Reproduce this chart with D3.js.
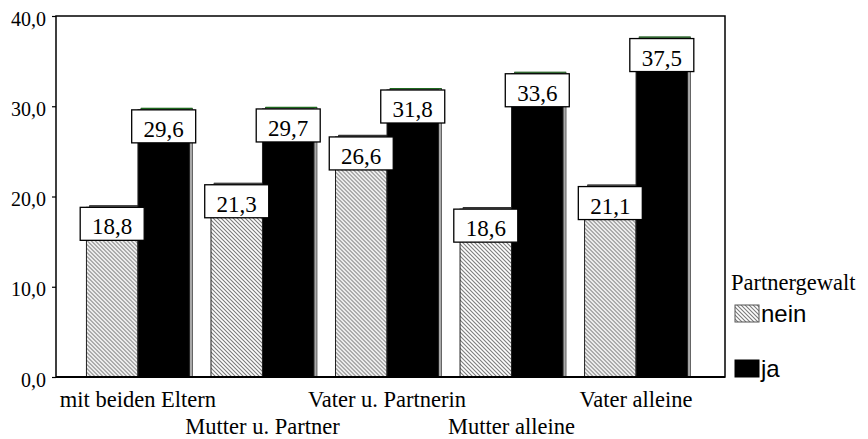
<!DOCTYPE html>
<html>
<head>
<meta charset="utf-8">
<script src="https://cdn.jsdelivr.net/npm/d3@7"></script>
<style>
  body { margin: 0; background: #fff; }
  svg { display: block; }
</style>
</head>
<body>
<div id="chart-container"></div>
<script>
// Data
const categories = ["mit beiden Eltern", "Mutter u. Partner", "Vater u. Partnerin", "Mutter alleine", "Vater alleine"];
const series = ["nein", "ja"];
const neinValues = [18.8, 21.3, 26.6, 18.6, 21.1];
const jaValues = [29.6, 29.7, 31.8, 33.6, 37.5];
const yTicks = [0, 10, 20, 30, 40];
const legendTitle = "Partnergewalt";

const width = 868, height = 439;
const frame = { left: 56, top: 16, right: 725, bottom: 377 };
const serif = "'Liberation Serif', 'Times New Roman', serif";

const svg = d3.select("#chart-container")
  .append("svg")
  .attr("width", width)
  .attr("height", height);

// hatch pattern for "nein"
const defs = svg.append("defs");
const pat = defs.append("pattern")
  .attr("id", "hatch")
  .attr("patternUnits", "userSpaceOnUse")
  .attr("width", 4)
  .attr("height", 4);
pat.append("rect").attr("width", 4).attr("height", 4).attr("fill", "#fff");
pat.append("path")
  .attr("d", "M-1,-1 L5,5 M-1,3 L1,5 M3,-1 L5,1")
  .attr("stroke", "#7a7a7a")
  .attr("stroke-width", 1.1);

// scales
const y = d3.scaleLinear()
  .domain([0, 40])
  .range([frame.bottom, frame.top]);

const x0 = d3.scaleBand()
  .domain(categories)
  .range([56, 718])
  .paddingInner(0.173)
  .paddingOuter(0.2445);

const x1 = d3.scaleBand()
  .domain(series)
  .range([0, x0.bandwidth()]);

const color = { nein: "url(#hatch)", ja: "#000" };

const rows = categories.map((c, i) => ({
  cat: c,
  values: [
    { key: "nein", value: neinValues[i] },
    { key: "ja", value: jaValues[i] }
  ]
}));

// frame
svg.append("rect")
  .attr("x", frame.left)
  .attr("y", frame.top)
  .attr("width", frame.right - frame.left)
  .attr("height", frame.bottom - frame.top)
  .attr("fill", "none")
  .attr("stroke", "#000")
  .attr("stroke-width", 1.5);

// y axis
const yAxis = svg.append("g")
  .attr("transform", `translate(${frame.left},0)`)
  .call(d3.axisLeft(y).tickValues(yTicks).tickSize(4).tickPadding(6)
    .tickFormat(d => d3.format(".1f")(d).replace(".", ",")));
yAxis.select(".domain").remove();
yAxis.selectAll("line").attr("stroke", "#000").attr("stroke-width", 1.2);
yAxis.selectAll("text")
  .attr("fill", "#000")
  .attr("dy", "0.45em")
  .style("font-family", serif)
  .style("font-size", "20px");

// bars
const groups = svg.selectAll(".grp")
  .data(rows)
  .enter().append("g")
  .attr("class", "grp")
  .attr("transform", d => `translate(${x0(d.cat)},0)`);

groups.each(function(d) {
  const g = d3.select(this);
  d.values.forEach(v => {
    const bx = x1(v.key), bw = x1.bandwidth();
    const by = y(v.value), bh = y(0) - y(v.value);
    // 3D side / shadow
    g.append("rect")
      .attr("x", bx + 3)
      .attr("y", by - 1.5)
      .attr("width", bw)
      .attr("height", bh + 1.5)
      .attr("fill", "#a9a9a9")
      .attr("stroke", "#4a4a4a")
      .attr("stroke-width", 0.8);
    g.append("line")
      .attr("x1", bx + 3).attr("x2", bx + 3 + bw)
      .attr("y1", by - 1.5).attr("y2", by - 1.5)
      .attr("stroke", v.key === "ja" ? "#1e6a1e" : "#333")
      .attr("stroke-width", 1.2);
    g.append("rect")
      .attr("x", bx)
      .attr("y", by)
      .attr("width", bw)
      .attr("height", bh)
      .attr("fill", color[v.key])
      .attr("stroke", "#222")
      .attr("stroke-width", 1);
  });
});

// value boxes
groups.each(function(d) {
  const g = d3.select(this);
  d.values.forEach(v => {
    const cx = x1(v.key) + x1.bandwidth() / 2;
    const by = y(v.value);
    g.append("rect")
      .attr("x", cx - 32)
      .attr("y", by)
      .attr("width", 64)
      .attr("height", 33)
      .attr("fill", "#fff")
      .attr("stroke", "#000")
      .attr("stroke-width", 1.3);
    g.append("text")
      .attr("x", cx)
      .attr("y", by + 27)
      .attr("text-anchor", "middle")
      .style("font-family", serif)
      .style("font-size", "23px")
      .text(v.value.toFixed(1).replace(".", ","));
  });
});

// baseline
svg.append("line")
  .attr("x1", frame.left).attr("x2", frame.right)
  .attr("y1", frame.bottom).attr("y2", frame.bottom)
  .attr("stroke", "#000")
  .attr("stroke-width", 2);

// category labels, staggered
svg.selectAll(".cat")
  .data(categories)
  .enter().append("text")
  .attr("class", "cat")
  .attr("x", d => x0(d) + x0.bandwidth() / 2)
  .attr("y", (d, i) => i % 2 === 0 ? 407 : 434)
  .attr("text-anchor", "middle")
  .style("font-family", serif)
  .style("font-size", "22.5px")
  .text(d => d);

// legend
const legend = svg.append("g");
legend.append("text")
  .attr("x", 731)
  .attr("y", 290)
  .style("font-family", serif)
  .style("font-size", "22.5px")
  .text(legendTitle);

const legendItems = [
  { key: "nein", y: 305 },
  { key: "ja", y: 360 }
];
legendItems.forEach(it => {
  legend.append("rect")
    .attr("x", 735)
    .attr("y", it.y)
    .attr("width", 24)
    .attr("height", 17)
    .attr("fill", color[it.key])
    .attr("stroke", it.key === "nein" ? "#555" : "#000")
    .attr("stroke-width", 1);
  legend.append("text")
    .attr("x", 761)
    .attr("y", it.y + 17)
    .style("font-family", "'Liberation Sans', Arial, sans-serif")
    .style("font-size", "24px")
    .text(it.key);
});
</script>
</body>
</html>
